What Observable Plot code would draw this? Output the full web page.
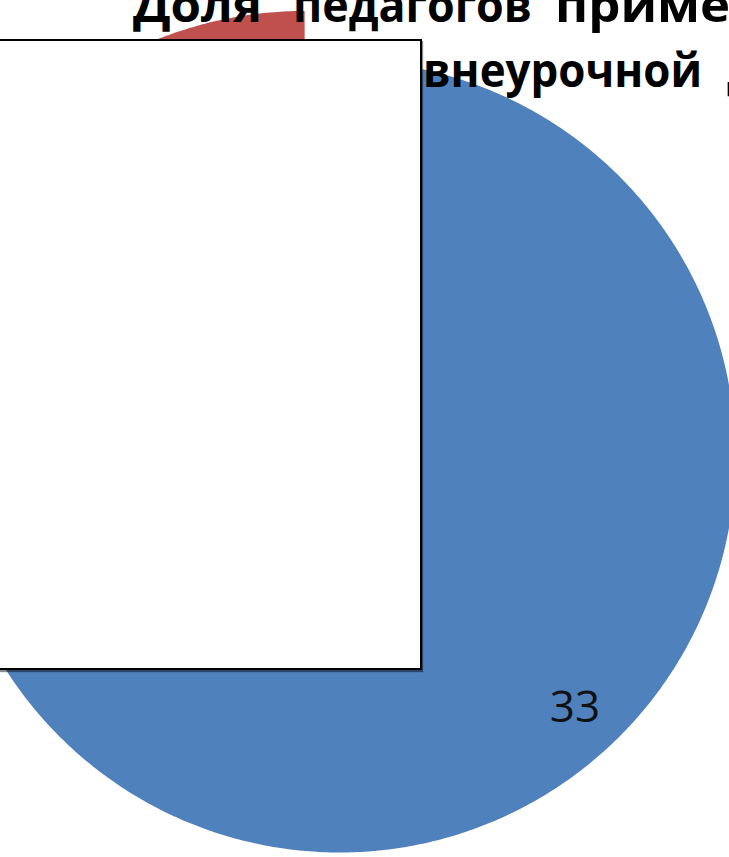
<!DOCTYPE html>
<html><head><meta charset="utf-8">
<script src="https://cdn.jsdelivr.net/npm/d3@7"></script>
<script src="https://cdn.jsdelivr.net/npm/@observablehq/plot@0.6"></script>
<style>
html,body{margin:0;padding:0;background:#fff;overflow:hidden}
#wrap{position:relative;width:729px;height:857px;overflow:hidden;background:#fff}
#chart{position:absolute;left:0;top:0}
#title{position:absolute;left:0;top:0;overflow:hidden}
#box{position:absolute;left:-3px;top:39px;width:425px;height:631px;box-sizing:border-box;border:2px solid #000;background:#fff;box-shadow:1px 2px 1px rgba(0,0,0,.45)}
</style></head><body>
<div id="wrap"><div id="chart"></div><svg id="title" width="729" height="120"></svg><div id="box"></div></div>
<script>
// ---- data ----
const categories = ["Применяют ИКТ", "Не применяют ИКТ"];
const values = [33, 8];
const labels = ["33", "8"];
const colors = ["#4F81BD", "#C0504D"];
const titleLine1 = ["Доля", "педагогов", "применяющих"];
const titleLine2 = ["внеурочной", "деятельности"];

// ---- layout ----
const W = 729, H = 857;
const R = 396, CX = 339, CY = 456;      // pie centre and radius in px
const explode = [0, 0.153];            // fraction of radius
const labelRadius = 0.87, labelShift = -8 * Math.PI / 180;

const arcs = d3.pie().sort(null).value(d => d)(values);
const pts = [];
arcs.forEach((p, i) => {
  const cat = categories[i];
  const mid = (p.startAngle + p.endAngle) / 2;
  const ox = explode[i] * Math.sin(mid), oy = explode[i] * Math.cos(mid);
  pts.push({cat, x: ox, y: oy});
  const n = Math.max(2, Math.ceil((p.endAngle - p.startAngle) / (Math.PI / 360)));
  for (let k = 0; k <= n; k++) {
    const a = p.startAngle + (p.endAngle - p.startAngle) * k / n;
    pts.push({cat, x: ox + Math.sin(a), y: oy + Math.cos(a)});
  }
  pts.push({cat, x: ox, y: oy});
});
const a0 = (arcs[0].startAngle + arcs[0].endAngle) / 2 + labelShift;
const labelData = [{text: labels[0], x: labelRadius * Math.sin(a0), y: labelRadius * Math.cos(a0)}];

const plot = Plot.plot({
  width: W, height: H,
  margin: 0,
  x: {domain: [-CX / R, (W - CX) / R], range: [0, W], axis: null},
  y: {domain: [(CY - H) / R, CY / R], range: [H, 0], axis: null},
  color: {domain: categories, range: colors},
  style: {fontFamily: "'Open Sans', sans-serif", background: "transparent"},
  marks: [
    Plot.line(pts, {x: "x", y: "y", z: "cat", fill: "cat", stroke: "none"}),
    Plot.text(labelData, {x: "x", y: "y", text: "text", fontSize: 44, fill: "#111", textAnchor: "middle", lineAnchor: "middle"})
  ]
});
document.getElementById("chart").appendChild(plot);

// ---- title (partly hidden, as in the picture) ----
const svgNS = "http://www.w3.org/2000/svg";
const tsvg = document.getElementById("title");
// w: full word width; sub: [chars, width] of a visible prefix when the word is cut off
const words = [
  {t: titleLine1[0], x: 133, y: 22, w: 129},
  {t: titleLine1[1], x: 293, y: 22, w: 239},
  {t: titleLine1[2], x: 555, y: 22, sub: [4, 145]},
  {t: titleLine2[0], x: 423, y: 87, w: 279},
  {t: titleLine2[1], x: 727, y: 87}
];
const els = words.map(d => {
  const e = document.createElementNS(svgNS, "text");
  e.setAttribute("x", d.x); e.setAttribute("y", d.y);
  e.setAttribute("font-family", "'Open Sans', sans-serif");
  e.setAttribute("font-weight", "bold");
  e.setAttribute("font-size", 46);
  e.setAttribute("fill", "#000");
  e.textContent = d.t;
  tsvg.appendChild(e);
  return e;
});
const rs = [];
words.forEach((d, i) => { if (d.w) rs.push(d.w / els[i].getComputedTextLength()); });
const ratio = d3.mean(rs);
words.forEach((d, i) => {
  const nat = els[i].getComputedTextLength();
  let len;
  if (d.w) len = d.w;
  else if (d.sub) len = nat * d.sub[1] / els[i].getSubStringLength(0, d.sub[0]);
  else len = nat * ratio;
  els[i].setAttribute("textLength", len);
  els[i].setAttribute("lengthAdjust", "spacingAndGlyphs");
});
</script>
</body></html>
